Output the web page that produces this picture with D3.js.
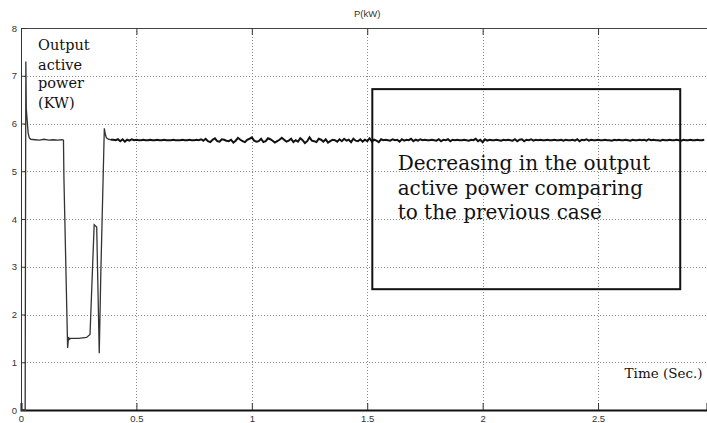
<!DOCTYPE html>
<html>
<head>
<meta charset="utf-8">
<script src="https://cdnjs.cloudflare.com/ajax/libs/d3/7.8.5/d3.min.js"></script>
<style>
	body { margin:0; background:#fff; }
	svg { display:block; }
	.tick text { font-family:"Liberation Sans", Arial, sans-serif; font-size:9.5px; fill:#333; }
	.serif { font-family:"DejaVu Serif", "Liberation Serif", serif; fill:#111; }
</style>
</head>
<body>
<div id="chart"></div>
<script>
// transient at start-up (time in s, power in kW)
var startTime  = [0, 0.018, 0.021, 0.023, 0.027, 0.031, 0.036, 0.042, 0.06, 0.08, 0.10, 0.12, 0.14, 0.16, 0.178, 0.184, 0.186, 0.202, 0.206, 0.209, 0.215, 0.25, 0.284, 0.299, 0.317, 0.328, 0.339, 0.346, 0.361, 0.365, 0.370, 0.378, 0.39];
var startPower = [0, 0, 7.30, 6.30, 6.05, 5.80, 5.70, 5.67, 5.66, 5.65, 5.67, 5.65, 5.66, 5.65, 5.66, 5.65, 4.85, 1.30, 1.53, 1.48, 1.50, 1.50, 1.52, 1.58, 3.88, 3.83, 1.19, 2.90, 5.90, 5.78, 5.70, 5.67, 5.66];

// steady state, one sample every 0.01 s from 0.40 s
var steadyStart = 0.40;
var steadyStep = 0.01;
var steadyPower = [
	5.66, 5.65, 5.67, 5.63, 5.67, 5.62, 5.66, 5.64, 5.67, 5.65,
	5.66, 5.65, 5.65, 5.66, 5.65, 5.65, 5.66, 5.65, 5.65, 5.66,
	5.65, 5.65, 5.66, 5.65, 5.65, 5.65, 5.66, 5.65, 5.65, 5.65,
	5.66, 5.65, 5.65, 5.66, 5.65, 5.65, 5.66, 5.65, 5.67, 5.64,
	5.68, 5.63, 5.61, 5.66, 5.69, 5.63, 5.62, 5.67, 5.66, 5.64,
	5.63, 5.66, 5.60, 5.64, 5.70, 5.66, 5.63, 5.61, 5.66, 5.68,
	5.71, 5.64, 5.62, 5.63, 5.68, 5.61, 5.63, 5.69, 5.67, 5.64,
	5.60, 5.63, 5.66, 5.70, 5.66, 5.62, 5.64, 5.68, 5.61, 5.65,
	5.62, 5.69, 5.65, 5.59, 5.63, 5.71, 5.64, 5.63, 5.61, 5.68,
	5.66, 5.62, 5.67, 5.60, 5.63, 5.66, 5.65, 5.62, 5.67, 5.63,
	5.68, 5.64, 5.66, 5.61, 5.68, 5.64, 5.63, 5.67, 5.62, 5.66,
	5.63, 5.69, 5.62, 5.66, 5.64, 5.61, 5.67, 5.65, 5.66, 5.65,
	5.64, 5.67, 5.65, 5.66, 5.62, 5.67, 5.64, 5.66, 5.65, 5.68,
	5.63, 5.66, 5.64, 5.67, 5.65, 5.66, 5.65, 5.65, 5.66, 5.65,
	5.64, 5.67, 5.63, 5.66, 5.65, 5.67, 5.63, 5.66, 5.65, 5.66,
	5.65, 5.65, 5.66, 5.65, 5.64, 5.66, 5.65, 5.68, 5.63, 5.66,
	5.61, 5.67, 5.64, 5.66, 5.65, 5.65, 5.66, 5.65, 5.64, 5.66,
	5.65, 5.66, 5.65, 5.64, 5.67, 5.63, 5.66, 5.67, 5.63, 5.66,
	5.65, 5.67, 5.64, 5.66, 5.65, 5.66, 5.65, 5.65, 5.66, 5.65,
	5.65, 5.66, 5.65, 5.65, 5.66, 5.64, 5.66, 5.65, 5.65, 5.66,
	5.64, 5.67, 5.63, 5.66, 5.65, 5.67, 5.64, 5.66, 5.65, 5.65,
	5.66, 5.65, 5.65, 5.66, 5.65, 5.65, 5.64, 5.66, 5.65, 5.66,
	5.65, 5.65, 5.66, 5.65, 5.64, 5.66, 5.65, 5.65, 5.66, 5.65,
	5.66, 5.64, 5.67, 5.65, 5.66, 5.65, 5.65, 5.64, 5.66, 5.65,
	5.65, 5.66, 5.65, 5.65, 5.66, 5.65, 5.64, 5.66, 5.65, 5.65,
	5.66, 5.65, 5.65, 5.66, 5.65, 5.65, 5.66
];

var xTicks = [0, 0.5, 1, 1.5, 2, 2.5];
var xTickLabels = ['0', '0.5', '1', '1.5', '2', '2.5'];
var yTicks = [0, 1, 2, 3, 4, 5, 6, 7, 8];

var chartTitle = 'P(kW)';
var powerLabel = ['Output', 'active', 'power', '(KW)'];
var noteLines = ['Decreasing in the output', 'active power comparing', 'to the previous case'];
var timeLabel = 'Time (Sec.)';

// annotation placement in data units
var boxTime = [1.522, 2.856];
var boxPower = [2.53, 6.72];
var noteTime = 1.632;
var notePower = [5.02, 4.50, 3.99];
var powerLabelTime = 0.074;
var powerLabelPower = [7.53, 7.13, 6.74, 6.33];
var timeLabelAt = [2.615, 0.67];

var Chart = {
	width : 707,
	height : 423,
	margin : { top : 28, right : 0, bottom : 13, left : 21 },
	svg : null,
	x : null,
	y : null,
	generate : function(elem){
		var m = this.margin;
		this.svg = d3.select(elem).append('svg')
			.attr('width', this.width)
			.attr('height', this.height);

		var w = this.width - m.left - m.right;
		var h = this.height - m.top - m.bottom;
		this.x = d3.scaleLinear().domain([0, 2.972]).range([m.left, m.left + w]);
		this.y = d3.scaleLinear().domain([0, 8]).range([m.top + h, m.top]);

		this.createGrid();
		this.createAxes();
		this.createLines();
		this.createNotes();
	},
	createGrid : function(){
		var x = this.x, y = this.y;
		var g = this.svg.append('g').attr('class', 'grid')
			.attr('stroke', '#8a8a8a')
			.attr('stroke-width', 1)
			.attr('stroke-dasharray', '1,2');

		g.selectAll('line.gx')
			.data(xTicks.slice(1))
			.enter()
			.append('line')
			.attr('class', 'gx')
			.attr('x1', function(d){ return Math.round(x(d)) + 0.5; })
			.attr('x2', function(d){ return Math.round(x(d)) + 0.5; })
			.attr('y1', y(8))
			.attr('y2', y(0));

		g.selectAll('line.gy')
			.data(yTicks.slice(1, -1))
			.enter()
			.append('line')
			.attr('class', 'gy')
			.attr('x1', x.range()[0])
			.attr('x2', x.range()[1])
			.attr('y1', function(d){ return Math.round(y(d)) + 0.5; })
			.attr('y2', function(d){ return Math.round(y(d)) + 0.5; });
	},
	createAxes : function(){
		var x = this.x, y = this.y;

		var bottom = this.svg.append('g')
			.attr('transform', 'translate(0,' + y(0) + ')')
			.call(d3.axisBottom(x).tickValues(xTicks).tickSize(-7).tickPadding(5)
				.tickFormat(function(d, i){ return xTickLabels[i]; }));
		bottom.select('.domain').attr('stroke', '#111').attr('stroke-width', 2);

		var top = this.svg.append('g')
			.attr('transform', 'translate(0,' + y(8) + ')')
			.call(d3.axisTop(x).tickValues(xTicks).tickSize(-7).tickFormat(''));
		top.select('.domain').attr('stroke', '#444');

		var left = this.svg.append('g')
			.attr('transform', 'translate(' + x(0) + ',0)')
			.call(d3.axisLeft(y).tickValues(yTicks).tickSize(-5).tickPadding(4));
		left.select('.domain').attr('stroke', '#333');

		this.svg.selectAll('.tick line').attr('stroke', '#333');

		this.svg.append('text')
			.attr('x', x(1.5))
			.attr('y', 17)
			.attr('text-anchor', 'middle')
			.style('font-family', '"Liberation Sans", Arial, sans-serif')
			.style('font-size', '9.5px')
			.style('fill', '#333')
			.text(chartTitle);
	},
	createLines : function(){
		var x = this.x, y = this.y;
		var line = d3.line()
			.x(function(d){ return x(d[0]); })
			.y(function(d){ return y(d[1]); });

		var startData = startTime.map(function(t, i){ return [t, startPower[i]]; });
		var steadyData = steadyPower.map(function(p, i){ return [steadyStart + i * steadyStep, p]; });
		steadyData.unshift(startData[startData.length - 1]);

		this.svg.append('path')
			.datum(startData)
			.attr('fill', 'none')
			.attr('stroke', '#333')
			.attr('stroke-width', 1.3)
			.attr('d', line);

		this.svg.append('path')
			.datum(steadyData)
			.attr('fill', 'none')
			.attr('stroke', '#111')
			.attr('stroke-width', 2)
			.attr('d', line);
	},
	createNotes : function(){
		var x = this.x, y = this.y;

		this.svg.append('rect')
			.attr('x', x(boxTime[0]))
			.attr('y', y(boxPower[1]))
			.attr('width', x(boxTime[1]) - x(boxTime[0]))
			.attr('height', y(boxPower[0]) - y(boxPower[1]))
			.attr('fill', 'none')
			.attr('stroke', '#111')
			.attr('stroke-width', 2);

		this.svg.selectAll('text.note')
			.data(noteLines)
			.enter()
			.append('text')
			.attr('class', 'note serif')
			.attr('x', x(noteTime))
			.attr('y', function(d, i){ return y(notePower[i]); })
			.style('font-size', '20px')
			.text(function(d){ return d; });

		this.svg.selectAll('text.plabel')
			.data(powerLabel)
			.enter()
			.append('text')
			.attr('class', 'plabel serif')
			.attr('x', x(powerLabelTime))
			.attr('y', function(d, i){ return y(powerLabelPower[i]); })
			.style('font-size', '14.5px')
			.text(function(d){ return d; });

		this.svg.append('text')
			.attr('class', 'serif')
			.attr('x', x(timeLabelAt[0]))
			.attr('y', y(timeLabelAt[1]))
			.style('font-size', '13.5px')
			.text(timeLabel);
	}
};

Chart.generate(document.getElementById('chart'));
</script>
</body>
</html>
